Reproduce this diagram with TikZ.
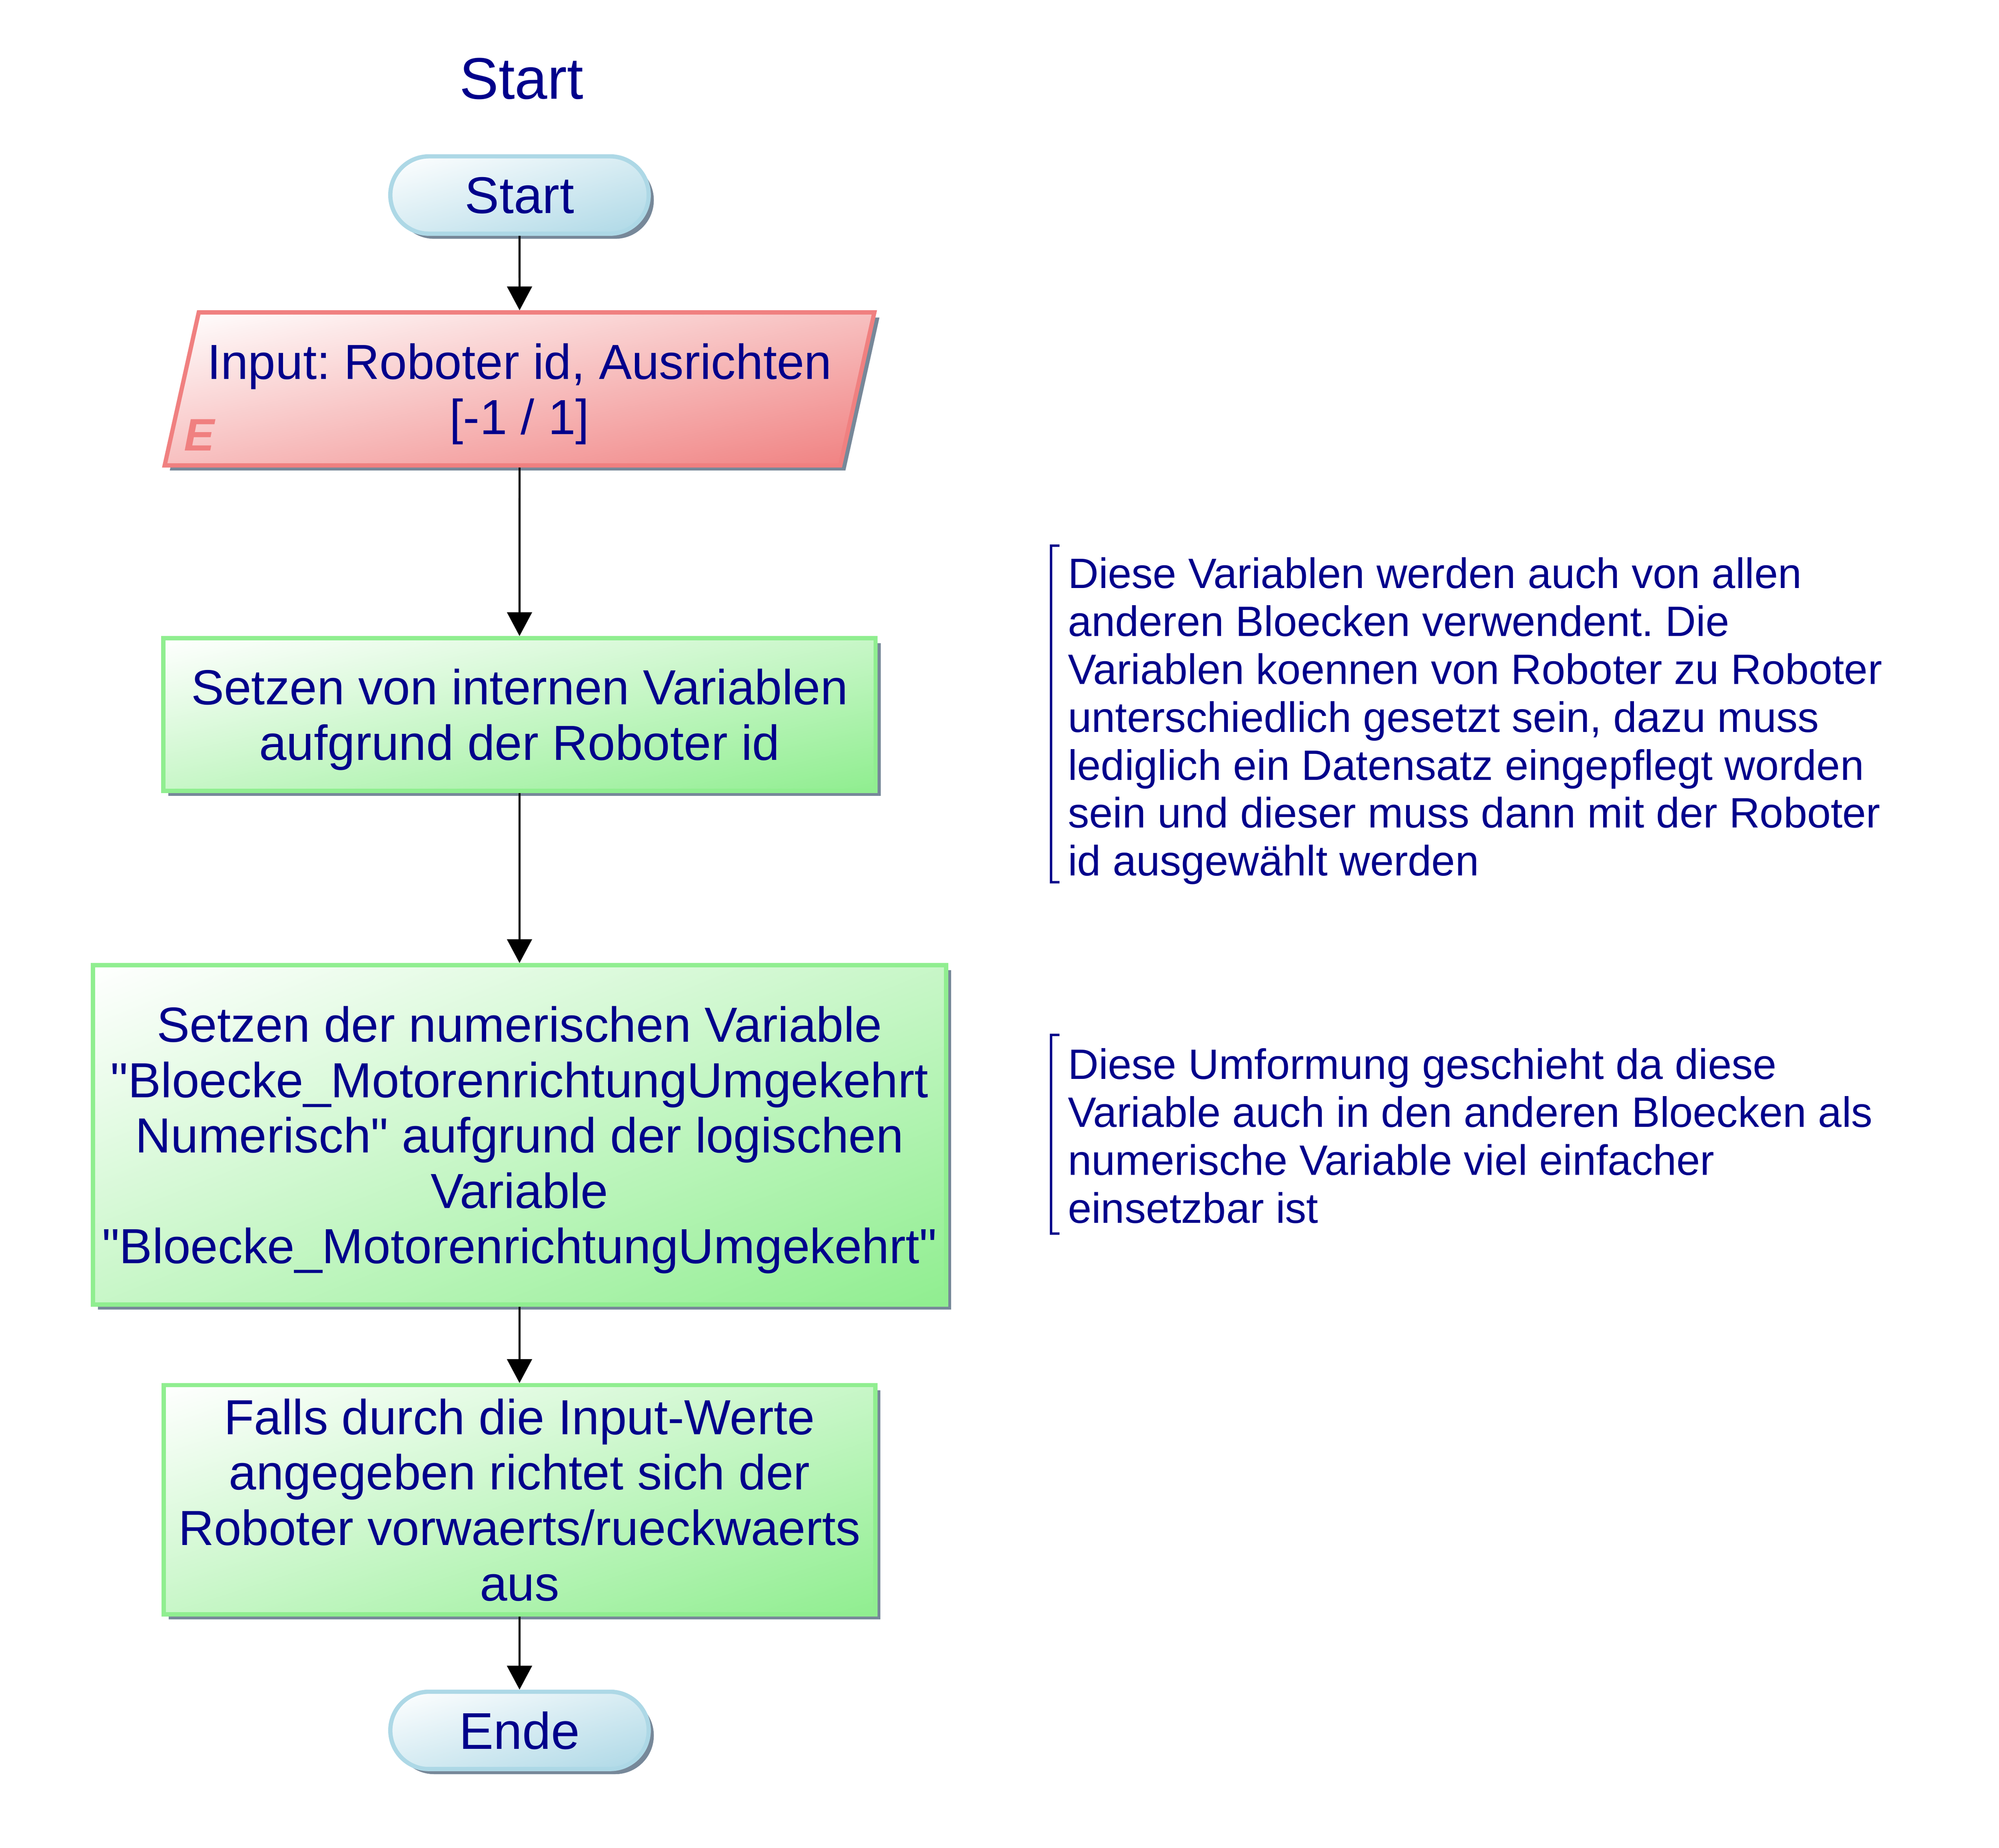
\documentclass[tikz,border=0pt]{standalone}
\usepackage{fontspec}
\setmainfont{Liberation Sans}
\frenchspacing
\usetikzlibrary{shapes.geometric,shadows,arrows.meta}

\definecolor{textnavy}{RGB}{0,0,139}
\definecolor{startblue}{RGB}{173,216,230}
\definecolor{inputred}{RGB}{240,128,128}
\definecolor{stepgreen}{RGB}{144,238,144}
\definecolor{shadowgray}{RGB}{119,136,153}

% white in the upper left corner, full colour in the lower right one
\newcommand\declarefade[4]{%
  \pgfdeclarefunctionalshading{#1}{\pgfpoint{0bp}{0bp}}{\pgfpoint{100bp}{100bp}}{}{%
    exch 25 sub exch 75 exch sub add 100 div
    dup 0 lt {pop 0} if dup 1 gt {pop 1} if
    dup #2 mul 1 exch sub
    exch dup #3 mul 1 exch sub
    exch #4 mul 1 exch sub}}
\declarefade{startfade}{0.3216}{0.1529}{0.0980}
\declarefade{inputfade}{0.0588}{0.4980}{0.4980}
\declarefade{stepfade}{0.4353}{0.0667}{0.4353}

\tikzset{every picture/.style={line width=0.75pt}}
\tikzset{
  flowshadow/.style={drop shadow={shadow xshift=3pt,shadow yshift=-3pt,fill=shadowgray,opacity=1}},
  flownode/.style={flowshadow,line width=2.5pt,inner sep=0pt,align=center,text=textnavy,
    text depth=0pt,font=\fontsize{29}{32.6}\selectfont},
  termnode/.style={flownode,rectangle,rounded corners=22.7pt,draw=startblue,
    shade,shading=startfade,minimum width=152pt,minimum height=45.5pt,
    font=\fontsize{30.4}{34}\selectfont},
  inputnode/.style={flownode,trapezium,trapezium left angle=70,trapezium right angle=110,
    trapezium stretches,draw=inputred,shade,shading=inputfade,
    minimum width=418pt,minimum height=90pt},
  stepnode/.style={flownode,rectangle,draw=stepgreen,shade,shading=stepfade},
  flowarrow/.style={-{Triangle[length=14pt,width=14.6pt]},line width=1.2pt,black},
  notetext/.style={inner sep=0pt,align=left,text=textnavy,font=\fontsize{25}{28.2}\selectfont},
  notebracket/.style={line width=1.4pt,textnavy}
}

\begin{document}
\begin{tikzpicture}[x=0.75pt,y=0.75pt,yscale=-1,xscale=1]
        \useasboundingbox (0,0) rectangle (1568,1449.7);
        % Text Node
        \node (title) at (409,77.5) [anchor=base,inner sep=0pt,text=textnavy,font=\fontsize{34.5}{40}\selectfont] {Start};
        % Terminal
        \node (start) at (407.5,153) [termnode] {Start};
        % Input
        \node (input) at (407.5,305.1) [inputnode] {Input: Roboter id, Ausrichten\\{[-1 / 1]}};
        \node (inmark) at (144,353.6) [anchor=base west,inner sep=0pt,text=inputred,font=\fontsize{26.8}{30}\selectfont\bfseries\itshape] {E};
        % Process
        \node (intvars) at (407.5,560.5) [stepnode,minimum width=419pt,minimum height=89.8pt] {Setzen von internen Variablen\\aufgrund der Roboter id};
        \node (numvar) at (407.5,890.3) [stepnode,minimum width=501.8pt,minimum height=199.7pt] {Setzen der numerischen Variable\\\textquotedbl Bloecke\_MotorenrichtungUmgekehrt\\Numerisch\textquotedbl{} aufgrund der logischen\\Variable\\\textquotedbl Bloecke\_MotorenrichtungUmgekehrt\textquotedbl};
        \node (richten) at (407.5,1176.5) [stepnode,minimum width=418.6pt,minimum height=134.8pt] {Falls durch die Input-Werte\\angegeben richtet sich der\\Roboter vorwaerts/rueckwaerts\\aus};
        % Terminal
        \node (ende) at (407.5,1357.5) [termnode] {Ende};
        %Straight Lines
        \draw [flowarrow] (start) -- (input);
        \draw [flowarrow] (input) -- (intvars);
        \draw [flowarrow] (intvars) -- (numvar);
        \draw [flowarrow] (numvar) -- (richten);
        \draw [flowarrow] (richten) -- (ende);
        % Annotations
        \node (varnote) at (837.2,436.8) [notetext,anchor=north west] {Diese Variablen werden auch von allen\\anderen Bloecken verwendent. Die\\Variablen koennen von Roboter zu Roboter\\unterschiedlich gesetzt sein, dazu muss\\lediglich ein Datensatz eingepflegt worden\\sein und dieser muss dann mit der Roboter\\id ausgewählt werden};
        \draw [notebracket] (831,428) -- (824.5,428) -- (824.5,692) -- (831,692);
        \node (formnote) at (837.2,822) [notetext,anchor=north west] {Diese Umformung geschieht da diese\\Variable auch in den anderen Bloecken als\\numerische Variable viel einfacher\\einsetzbar ist};
        \draw [notebracket] (831,811.8) -- (824.5,811.8) -- (824.5,967.7) -- (831,967.7);
\end{tikzpicture}
\end{document}
